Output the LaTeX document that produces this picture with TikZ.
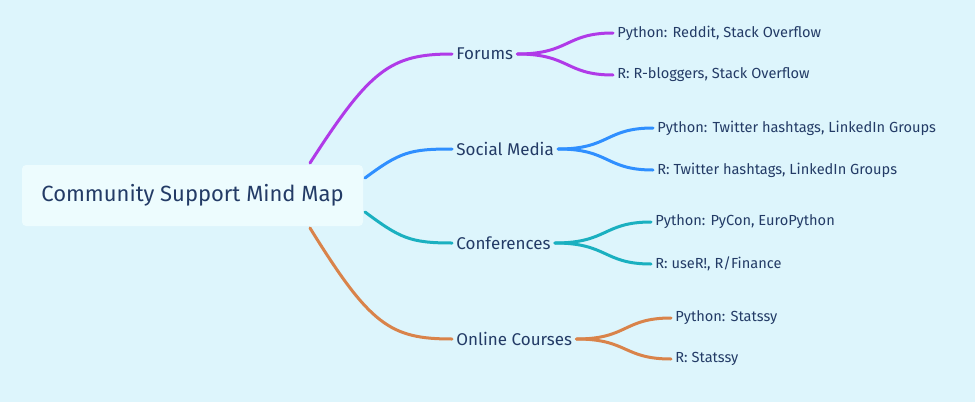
\documentclass[tikz,border=0pt]{standalone}
\usepackage{fontspec}
\setmainfont{Fira Sans}
\usetikzlibrary{positioning}
\definecolor{bgc}{HTML}{DDF5FC}
\definecolor{rootc}{HTML}{EDFCFE}
\definecolor{txt}{HTML}{233B66}
\definecolor{cforum}{HTML}{B03AE8}
\definecolor{csocial}{HTML}{2F8FFF}
\definecolor{cconf}{HTML}{1AB0C0}
\definecolor{ccourse}{HTML}{D9834A}
\begin{document}
\begin{tikzpicture}[x=0.5pt, y=-0.5pt]
    \tikzset{root_style/.style={fill=rootc, rounded corners=2pt, minimum width=170.5pt, minimum height=30.5pt, text=txt, font=\fontsize{11}{13}\selectfont},
             branch_style/.style={anchor=west, inner sep=2pt, text=txt, font=\fontsize{8.5}{10}\selectfont},
             leaf_style/.style={anchor=west, inner sep=2pt, text=txt, font=\fontsize{7.3}{9}\selectfont},
             edge_style/.style={line width=1.5pt, line cap=round}}
    \fill[bgc] (0,0) rectangle (975,402);
    \useasboundingbox (0,0) rectangle (975,402);
    \node[root_style] (root) at (192.5,195.5) {Community Support Mind Map};
    % branch labels
    \node[branch_style] (forums) at (452,54) {Forums};
    \node[branch_style] (social) at (452,149) {Social Media};
    \node[branch_style] (conf) at (452,243) {Conferences};
    \node[branch_style] (course) at (452,339) {Online Courses};
    % leaves
    \node[leaf_style] (f1) at (613,33) {Python: Reddit, Stack Overflow};
    \node[leaf_style] (f2) at (613,75) {R: R-bloggers, Stack Overflow};
    \node[leaf_style] (s1) at (653,128) {Python: Twitter hashtags, LinkedIn Groups};
    \node[leaf_style] (s2) at (653,170) {R: Twitter hashtags, LinkedIn Groups};
    \node[leaf_style] (c1) at (651,222) {Python: PyCon, EuroPython};
    \node[leaf_style] (c2) at (651,264) {R: useR!, R/Finance};
    \node[leaf_style] (o1) at (671,318) {Python: Statssy};
    \node[leaf_style] (o2) at (671,359) {R: Statssy};
    % connectors from root
    \coordinate (rf) at (310,163);
    \coordinate (rs) at (365,178);
    \coordinate (rc) at (365,212);
    \coordinate (ro) at (310,228);
    \draw[edge_style, cforum] (rf) .. controls (370,70) and (390,54) .. (forums.west);
    \draw[edge_style, csocial] (rs) .. controls (400,152) and (410,149) .. (social.west);
    \draw[edge_style, cconf] (rc) .. controls (400,238) and (410,243) .. (conf.west);
    \draw[edge_style, ccourse] (ro) .. controls (370,325) and (390,339) .. (course.west);
    % connectors to leaves
    \draw[edge_style, cforum] (forums.east) .. controls (570,54) and (565,33) .. (f1.west);
    \draw[edge_style, cforum] (forums.east) .. controls (570,54) and (565,75) .. (f2.west);
    \draw[edge_style, csocial] (social.east) .. controls (610,149) and (605,128) .. (s1.west);
    \draw[edge_style, csocial] (social.east) .. controls (610,149) and (605,170) .. (s2.west);
    \draw[edge_style, cconf] (conf.east) .. controls (608,243) and (603,222) .. (c1.west);
    \draw[edge_style, cconf] (conf.east) .. controls (608,243) and (603,264) .. (c2.west);
    \draw[edge_style, ccourse] (course.east) .. controls (628,339) and (623,318) .. (o1.west);
    \draw[edge_style, ccourse] (course.east) .. controls (628,339) and (623,359) .. (o2.west);
\end{tikzpicture}
\end{document}
